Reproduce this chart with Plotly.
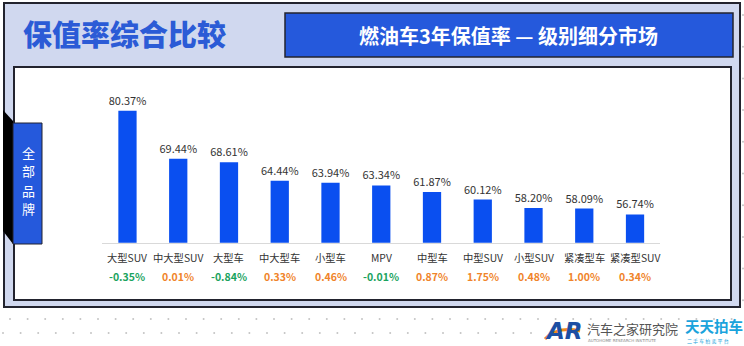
import plotly.graph_objects as go

W, H = 744, 346

categories = ["大型SUV", "中大型SUV", "大型车", "中大型车", "小型车", "MPV",
              "中型车", "中型SUV", "小型SUV", "紧凑型车", "紧凑型SUV"]
retention = [80.37, 69.44, 68.61, 64.44, 63.94, 63.34, 61.87, 60.12, 58.20, 58.09, 56.74]
change = [-0.35, 0.01, -0.84, 0.33, 0.46, -0.01, 0.87, 1.75, 0.48, 1.00, 0.34]

title_left = "保值率综合比较"
title_right = "燃油车3年保值率 — 级别细分市场"
side_tab = ["全", "部", "品", "牌"]

CJK = "Noto Sans CJK SC, Microsoft YaHei, sans-serif"
BLUE = "#2559dc"
BAR = "#0a4ff0"
DARK = "#22232e"


def px(x):
    return x / W


def py(y):
    return 1 - y / H


fig = go.Figure()
fig.add_trace(go.Bar(
    x=categories, y=retention, width=0.36,
    marker=dict(color=BAR, line=dict(width=0)),
    text=[f"{v:.2f}%" for v in retention], textposition="outside",
    constraintext="none",
    textfont=dict(family=CJK, size=11, color="#333333"),
    cliponaxis=False, hoverinfo="skip",
))

shapes = []
# background dots
k = 0
while 10 + 17.6 * k < W:
    shapes.append(dict(type="circle", xref="paper", yref="paper",
                       x0=px(10 + 17.6 * k - 1), x1=px(10 + 17.6 * k + 1),
                       y0=py(319 + 1), y1=py(319 - 1),
                       fillcolor="#c4c4c4", line=dict(width=0), layer="below"))
    k += 1
k = 0
while 3 + 17.6 * k < 538:
    shapes.append(dict(type="circle", xref="paper", yref="paper",
                       x0=px(3 + 17.6 * k - 1), x1=px(3 + 17.6 * k + 1),
                       y0=py(333 + 1), y1=py(333 - 1),
                       fillcolor="#c4c4c4", line=dict(width=0), layer="below"))
    k += 1
for j in range(10):
    yy = 15 + 31.7 * j
    shapes.append(dict(type="circle", xref="paper", yref="paper",
                       x0=px(742), x1=px(744), y0=py(yy + 1), y1=py(yy - 1),
                       fillcolor="#c4c4c4", line=dict(width=0), layer="below"))
# outer panel
shapes.append(dict(type="rect", xref="paper", yref="paper",
                   x0=px(4), x1=px(740), y0=py(307), y1=py(3),
                   fillcolor="#d0d8ef", line=dict(color=DARK, width=2), layer="below"))
# inner white panel
shapes.append(dict(type="rect", xref="paper", yref="paper",
                   x0=px(14), x1=px(731), y0=py(300), y1=py(67),
                   fillcolor="#ffffff", line=dict(color=DARK, width=2), layer="below"))
# header box
shapes.append(dict(type="rect", xref="paper", yref="paper",
                   x0=px(285), x1=px(733), y0=py(57), y1=py(13),
                   fillcolor=BLUE, line=dict(color=DARK, width=1.5), layer="below"))
# side tab: dark bevel + blue box
shapes.append(dict(type="path", xref="paper", yref="paper",
                   path=f"M {px(3)},{py(110)} L {px(13)},{py(121)} L {px(13)},{py(244)} L {px(3)},{py(231)} Z",
                   fillcolor="#000000", line=dict(width=0), layer="above"))
shapes.append(dict(type="rect", xref="paper", yref="paper",
                   x0=px(13), x1=px(42), y0=py(244), y1=py(123),
                   fillcolor=BLUE, line=dict(color=DARK, width=1), layer="above"))
# logo swoosh
shapes.append(dict(type="path", xref="paper", yref="paper",
                   path=f"M {px(545)},{py(339)} Q {px(558)},{py(326)} {px(580)},{py(331)}",
                   line=dict(color="#f08a1e", width=3), layer="above"))

ann = []
ann.append(dict(x=px(125), y=py(33), xref="paper", yref="paper", text=title_left,
                showarrow=False, xanchor="center", yanchor="middle",
                font=dict(family=CJK, size=29, color="#2b5bd6", weight=900)))
ann.append(dict(x=px(509), y=py(35), xref="paper", yref="paper", text=title_right,
                showarrow=False, xanchor="center", yanchor="middle",
                font=dict(family=CJK, size=20, color="#ffffff", weight="bold")))
for i, ch in enumerate(side_tab):
    ann.append(dict(x=px(28), y=py(152 + 19 * i), xref="paper", yref="paper", text=ch,
                    showarrow=False, xanchor="center", yanchor="middle",
                    font=dict(family=CJK, size=13, color="#ffffff")))
for c, d in zip(categories, change):
    ann.append(dict(x=c, y=py(257), xref="x", yref="paper", text=c,
                    showarrow=False, xanchor="center", yanchor="middle",
                    font=dict(family=CJK, size=10.3, color="#333333")))
    col = "#1aa35e" if d < 0 else "#f0842a"
    ann.append(dict(x=c, y=py(276), xref="x", yref="paper", text=f"{d:.2f}%",
                    showarrow=False, xanchor="center", yanchor="middle",
                    font=dict(family=CJK, size=10.5, color=col, weight="bold")))
# logo texts
ann.append(dict(x=px(543), y=py(331), xref="paper", yref="paper", text="<i>AR</i>",
                showarrow=False, xanchor="left", yanchor="middle",
                font=dict(family="DejaVu Sans", size=23, color="#1d4fa3", weight=900)))
ann.append(dict(x=px(585), y=py(328), xref="paper", yref="paper", text="汽车之家研究院",
                showarrow=False, xanchor="left", yanchor="middle",
                font=dict(family=CJK, size=13, color="#555555")))
ann.append(dict(x=px(586), y=py(340), xref="paper", yref="paper", text="AUTOHOME RESEARCH INSTITUTE",
                showarrow=False, xanchor="left", yanchor="middle",
                font=dict(family="DejaVu Sans", size=4, color="#888888")))
ann.append(dict(x=px(683), y=py(325), xref="paper", yref="paper", text="天天拍车",
                showarrow=False, xanchor="left", yanchor="middle",
                font=dict(family=CJK, size=14.5, color="#1aa3dc", weight="bold")))
ann.append(dict(x=px(685), y=py(341), xref="paper", yref="paper", text="二 手 车 拍 卖 平 台",
                showarrow=False, xanchor="left", yanchor="middle",
                font=dict(family=CJK, size=5, color="#1aa3dc")))

fig.update_layout(
    width=W, height=H, margin=dict(l=0, r=0, t=0, b=0, pad=0),
    paper_bgcolor="#ffffff", plot_bgcolor="rgba(0,0,0,0)",
    showlegend=False, bargap=0.64,
    shapes=shapes, annotations=ann,
    xaxis=dict(domain=[px(102.1), px(660.4)], range=[-0.5, 10.5],
               showticklabels=False, ticks="", showgrid=False, zeroline=False,
               showline=True, linecolor="#d9d9d9", linewidth=1, fixedrange=True),
    yaxis=dict(domain=[py(242.7), py(70)], range=[50.3, 89.64],
               visible=False, showgrid=False, zeroline=False, fixedrange=True),
)

fig.write_html("out.html", config={"displayModeBar": False})
